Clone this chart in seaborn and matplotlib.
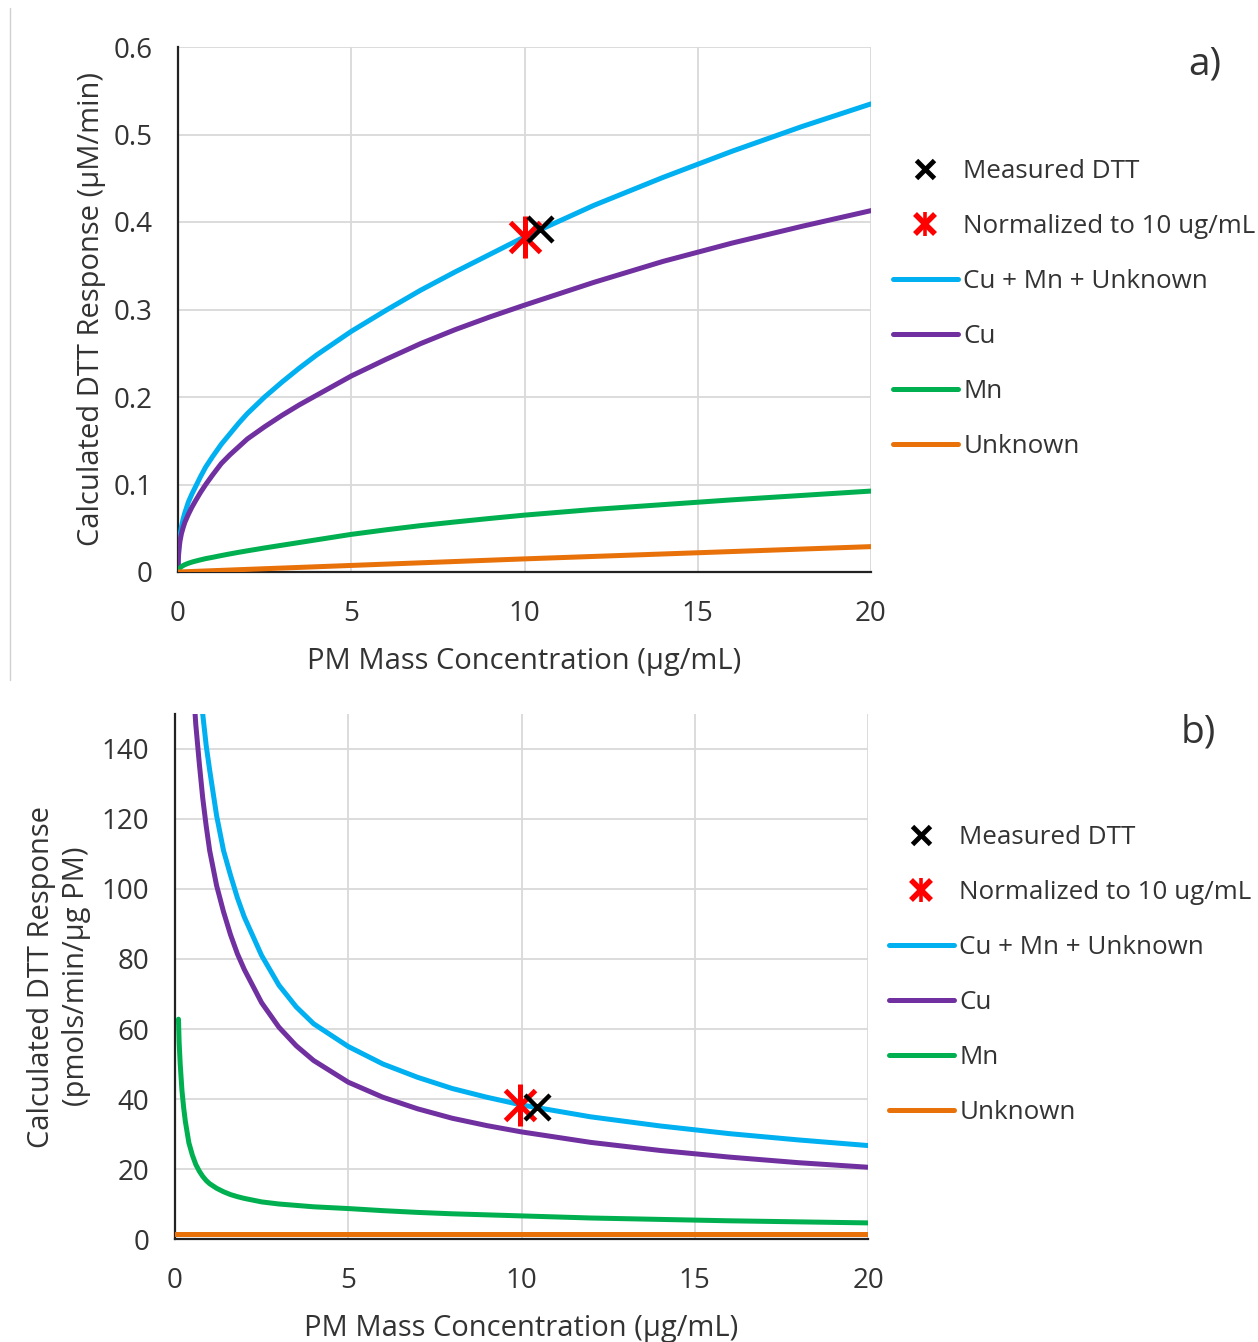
import numpy as np
import pandas as pd
import seaborn as sns
import matplotlib.pyplot as plt
from matplotlib.lines import Line2D
from matplotlib.legend_handler import HandlerTuple

# ---------------- data ----------------
# panel a) : Calculated DTT response (uM/min) vs PM mass concentration (ug/mL)
x_a = [0, 0.01, 0.03, 0.06, 0.1, 0.15, 0.2, 0.3, 0.4, 0.5, 0.65, 0.8, 1, 1.25, 1.5, 1.75,
       2, 2.5, 3, 3.5, 4, 5, 6, 7, 8, 9, 10, 12, 14, 16, 18, 20]
total_a = [0, 0.018, 0.030, 0.042, 0.052, 0.061, 0.068, 0.080, 0.089, 0.097, 0.109, 0.120,
           0.132, 0.146, 0.158, 0.170, 0.181, 0.200, 0.217, 0.233, 0.248, 0.275, 0.299,
           0.322, 0.343, 0.363, 0.383, 0.419, 0.451, 0.481, 0.509, 0.535]
cu_a = [0, 0.016, 0.027, 0.036, 0.044, 0.051, 0.057, 0.066, 0.074, 0.081, 0.091, 0.100,
        0.111, 0.124, 0.134, 0.143, 0.152, 0.166, 0.179, 0.191, 0.202, 0.224, 0.243,
        0.261, 0.277, 0.2915, 0.305, 0.331, 0.355, 0.376, 0.395, 0.413]
mn_a = [0, 0.0012, 0.0028, 0.0045, 0.0062, 0.0074, 0.0084, 0.0100, 0.0113, 0.0124, 0.0139,
        0.0153, 0.0168, 0.0188, 0.0207, 0.0225, 0.0242, 0.0275, 0.0306, 0.0337, 0.0368,
        0.0430, 0.0482, 0.0530, 0.0572, 0.0612, 0.0650, 0.0715, 0.0770, 0.0825, 0.0875,
        0.0925]
x_unk_a = [0, 5, 10, 15, 20]
unk_a = [0, 0.0075, 0.0150, 0.0220, 0.0290]

measured_a = (10.45, 0.392)
normalized_a = (10.0, 0.383)

# panel b) : Calculated DTT response (pmols/min/ug PM)
x_b = [0.1, 0.12, 0.15, 0.2, 0.25, 0.3, 0.4, 0.5, 0.6, 0.7, 0.8, 0.9, 1, 1.2, 1.4, 1.6,
       1.8, 2, 2.5, 3, 3.5, 4, 5, 6, 7, 8, 9, 10, 12, 14, 16, 18, 20]
total_b = [500, 450, 400, 340, 300, 270, 225, 195, 175, 160, 150, 141, 134, 121, 111, 104,
           97.5, 92, 81, 72.5, 66.3, 61.5, 55, 50, 46.2, 43, 40.5, 38.3, 34.9, 32.3, 30.1,
           28.3, 26.7]
cu_b = [420, 380, 330, 280, 245, 220, 185, 162, 147, 136, 126, 118, 111, 101, 93.5, 87,
        81.5, 77, 67.5, 60.5, 55.2, 51, 44.8, 40.5, 37.2, 34.5, 32.4, 30.6, 27.6, 25.3,
        23.4, 21.8, 20.5]
mn_b = [62.8, 56, 50, 42.5, 37.5, 33.5, 27.5, 24, 21.3, 19.4, 17.9, 16.7, 15.8, 14.5,
        13.5, 12.7, 12.1, 11.6, 10.6, 10.0, 9.6, 9.2, 8.7, 8.1, 7.6, 7.2, 6.9, 6.6, 6.0,
        5.6, 5.2, 4.9, 4.6]
x_unk_b = [0, 5, 10, 15, 20]
unk_b = [1.45, 1.45, 1.45, 1.45, 1.45]

measured_b = (10.45, 37.6)
normalized_b = (9.97, 38.2)

x_ticks = [0, 5, 10, 15, 20]
x_tick_labels = ['0', '5', '10', '15', '20']
y_ticks_a = [0, 0.1, 0.2, 0.3, 0.4, 0.5, 0.6]
y_tick_labels_a = ['0', '0.1', '0.2', '0.3', '0.4', '0.5', '0.6']
y_ticks_b = [0, 20, 40, 60, 80, 100, 120, 140]
y_tick_labels_b = ['0', '20', '40', '60', '80', '100', '120', '140']

series_names = ['Cu + Mn + Unknown', 'Cu', 'Mn', 'Unknown']
colors = ['#00B0F0', '#7030A0', '#00B050', '#E8710A']
marker_names = ['Measured DTT', 'Normalized to 10 ug/mL']

# ---------------- style ----------------
sns.set_theme(style="whitegrid")
plt.rcParams['font.family'] = ['Open Sans', 'DejaVu Sans']

W, H = 1258, 1342
fig = plt.figure(figsize=(W / 100, H / 100), dpi=100)


def px_axes(l, t, r, b):
    return fig.add_axes([l / W, 1 - b / H, (r - l) / W, (b - t) / H])


ax_a = px_axes(178, 47, 871, 572)
ax_b = px_axes(175, 714, 868, 1239)

LW = 3.6
TICK_FS = 20
LAB_FS = 21
LEG_FS = 18.7
TXT = '#333333'


def draw_panel(ax, xs, series, xu, yu, meas, norm, ylim, yt, ytl, ylabel, ylabelpad):
    for (y, c) in zip(series, colors[:3]):
        sns.lineplot(x=xs, y=y, ax=ax, color=c, lw=LW, estimator=None, sort=False,
                     legend=False)
    sns.lineplot(x=xu, y=yu, ax=ax, color=colors[3], lw=LW, estimator=None, sort=False,
                 legend=False)
    # markers
    ax.plot([norm[0]], [norm[1]], ls='none', marker='x', ms=21, mew=3.6, color='red', zorder=5)
    ax.plot([norm[0]], [norm[1]], ls='none', marker='|', ms=30, mew=3.6, color='red', zorder=5)
    ax.plot([meas[0]], [meas[1]], ls='none', marker='x', ms=18, mew=3.2, color='black', zorder=6)

    ax.set_xlim(0, 20)
    ax.set_ylim(*ylim)
    ax.set_xticks(x_ticks)
    ax.set_xticklabels(x_tick_labels)
    ax.set_yticks(yt)
    ax.set_yticklabels(ytl)
    ax.tick_params(axis='both', length=0, labelsize=TICK_FS, colors=TXT)
    ax.tick_params(axis='x', pad=20)
    ax.tick_params(axis='y', pad=18.5)
    ax.grid(True, color='#d9d9d9', lw=1.3)
    ax.set_facecolor('white')
    for s in ['top', 'right']:
        ax.spines[s].set_visible(False)
    for s in ['left', 'bottom']:
        ax.spines[s].set_color('#222222')
        ax.spines[s].set_linewidth(1.6)
        ax.spines[s].set_zorder(1)
    ax.set_xlabel('PM Mass Concentration (µg/mL)', fontsize=LAB_FS, color=TXT, labelpad=14)
    ax.set_ylabel(ylabel, fontsize=LAB_FS, color=TXT, labelpad=ylabelpad, linespacing=1.25)


draw_panel(ax_a, x_a, [total_a, cu_a, mn_a], x_unk_a, unk_a, measured_a, normalized_a,
           (0, 0.6), y_ticks_a, y_tick_labels_a, 'Calculated DTT Response (µM/min)', 5.5)
draw_panel(ax_b, x_b, [total_b, cu_b, mn_b], x_unk_b, unk_b, measured_b, normalized_b,
           (0, 150), y_ticks_b, y_tick_labels_b,
           'Calculated DTT Response\n(pmols/min/µg PM)', 8)


def make_legend(left_px, center_px):
    h_meas = Line2D([], [], ls='none', marker='x', ms=13, mew=3.5, color='black')
    h_norm = (Line2D([], [], ls='none', marker='x', ms=14, mew=4.0, color='red'),
              Line2D([], [], ls='none', marker='|', ms=17, mew=2.6, color='red'))
    line_h = [Line2D([], [], color=c, lw=LW, solid_capstyle='round') for c in colors]
    handles = [h_meas, h_norm] + line_h
    labels = marker_names + series_names
    fig.legend(handles, labels, loc='center left',
               bbox_to_anchor=(left_px / W, 1 - center_px / H),
               frameon=False, fontsize=LEG_FS, handlelength=2.5, handletextpad=0.2,
               labelspacing=1.16, borderpad=0, borderaxespad=0,
               handler_map={tuple: HandlerTuple(ndivide=1, pad=0)},
               labelcolor=TXT)


make_legend(893, 309)
make_legend(889, 975)

fig.text(1205 / W, 1 - 65 / H, 'a)', fontsize=28, color=TXT, ha='center', va='center')
fig.text(1198 / W, 1 - 733 / H, 'b)', fontsize=28, color=TXT, ha='center', va='center')

# thin frame line on the left of the upper image
fig.add_artist(Line2D([10 / W, 10 / W], [1 - 680 / H, 1 - 8 / H], color='#d0d0d0', lw=1))

fig.savefig('out.png', dpi=100, facecolor='white')
